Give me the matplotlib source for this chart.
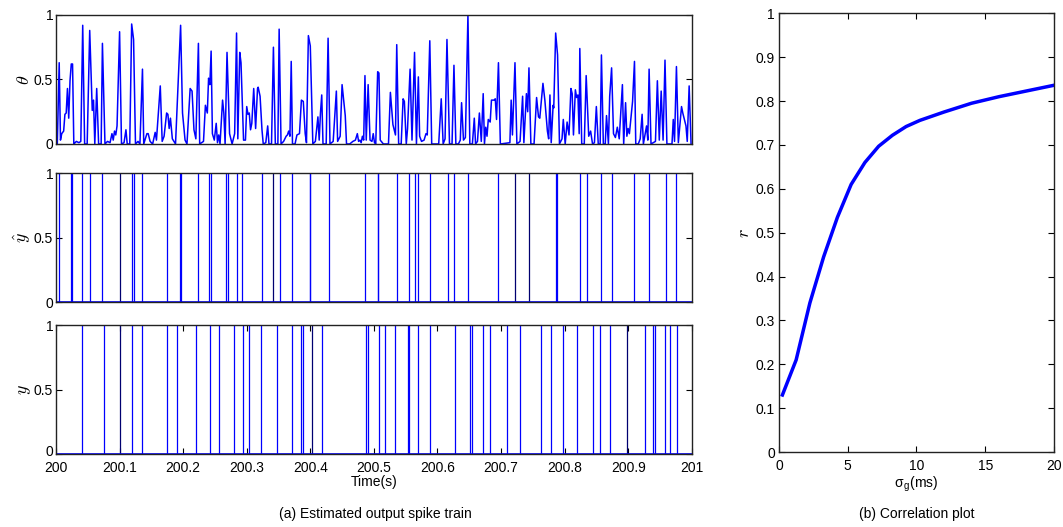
import matplotlib
matplotlib.use("Agg")
import matplotlib.pyplot as plt
import matplotlib.transforms as mtransforms
import numpy as np

plt.rcParams["font.family"] = ["Liberation Sans", "DejaVu Sans"]
plt.rcParams["mathtext.fontset"] = "cm"
plt.rcParams["font.size"] = 10

# theta trace: time offsets (ms after 200 s) and values
theta_ms = [0, 2, 5, 7, 9, 12, 14, 16, 18, 20, 22, 24, 26, 28, 32, 36, 39, 42, 45, 49,
            53, 57, 59, 61, 64, 67, 71, 73, 77, 81, 85, 88, 90, 92, 94, 96, 100, 103, 107, 110,
            112, 116, 119, 122, 125, 129, 132, 136, 138, 143, 145, 148, 152, 156, 158, 164, 167, 170, 174, 176,
            178, 180, 183, 188, 196, 199, 203, 206, 211, 214, 217, 220, 224, 226, 232, 235, 238, 240, 242, 244,
            246, 249, 252, 254, 256, 258, 262, 264, 266, 269, 273, 277, 281, 284, 286, 289, 291, 295, 298, 300,
            302, 304, 306, 308, 311, 314, 317, 318, 321, 324, 326, 330, 333, 335, 339, 342, 345, 349, 351, 354,
            358, 362, 364, 366, 368, 370, 372, 376, 379, 383, 386, 389, 392, 394, 397, 400, 404, 408, 412, 414,
            416, 418, 420, 425, 428, 431, 436, 441, 443, 447, 450, 455, 457, 462, 467, 471, 474, 476, 478, 480,
            482, 484, 486, 488, 491, 494, 497, 499, 501, 503, 506, 508, 510, 515, 523, 526, 530, 534, 536, 539,
            543, 546, 548, 551, 553, 557, 560, 564, 567, 570, 572, 575, 579, 582, 584, 588, 591, 602, 606, 609,
            612, 615, 619, 623, 626, 629, 633, 636, 638, 641, 644, 648, 651, 655, 658, 660, 663, 666, 669, 672,
            674, 676, 678, 680, 683, 685, 689, 691, 693, 696, 699, 714, 716, 718, 722, 725, 730, 734, 736, 740,
            742, 744, 747, 752, 756, 759, 761, 766, 769, 773, 775, 777, 779, 782, 783, 786, 789, 792, 796, 798,
            801, 804, 807, 810, 812, 814, 817, 819, 821, 823, 824, 827, 831, 834, 838, 841, 844, 847, 850, 853,
            856, 858, 861, 864, 866, 869, 871, 874, 877, 880, 883, 886, 891, 893, 896, 898, 900, 902, 907, 910,
            912, 916, 919, 922, 924, 929, 931, 933, 936, 943, 946, 949, 952, 955, 958, 961, 969, 971, 973, 976,
            979, 984, 986, 991, 993, 996, 999]
theta_val = [0.03, 0, 0.63, 0.03, 0.08, 0.10, 0.23, 0.24, 0.43, 0.20, 0.49, 0.62, 0.62, 0, 0.02, 0.01, 0.02, 0.92, 0, 0,
             0.88, 0.26, 0.34, 0, 0.43, 0, 0, 0.78, 0, 0.02, 0.01, 0.08, 0.03, 0.10, 0.07, 0.14, 0.87, 0, 0.01, 0.11,
             0, 0, 0.93, 0.81, 0, 0.02, 0, 0.58, 0, 0.08, 0.08, 0.02, 0, 0.09, 0.03, 0.45, 0.02, 0.06, 0.24, 0.23,
             0.12, 0.20, 0.04, 0, 0.92, 0.24, 0.03, 0, 0.43, 0.41, 0.11, 0.04, 0.78, 0, 0.02, 0.30, 0.24, 0.51, 0.46, 0.72,
             0.08, 0.03, 0.16, 0.01, 0.07, 0, 0.34, 0.24, 0, 0.71, 0.08, 0, 0.08, 0.86, 0.04, 0.71, 0.63, 0.03, 0.03, 0.29,
             0.23, 0.24, 0.11, 0.16, 0.43, 0.12, 0.43, 0.44, 0.37, 0.11, 0, 0.01, 0.14, 0, 0, 0.75, 0, 0, 0.89, 0,
             0.02, 0.06, 0.07, 0.10, 0.06, 0.64, 0, 0, 0.07, 0.08, 0.34, 0.33, 0.08, 0.01, 0.84, 0.76, 0, 0.02, 0.21, 0.03,
             0.24, 0.38, 0, 0, 0.82, 0, 0.02, 0.41, 0.02, 0.06, 0.46, 0.22, 0, 0, 0.02, 0.03, 0.08, 0.02, 0.03, 0.01,
             0.06, 0.03, 0.53, 0.03, 0.46, 0.03, 0.02, 0.08, 0.01, 0, 0.56, 0.55, 0.03, 0, 0, 0.40, 0.15, 0.07, 0.77, 0,
             0, 0.35, 0.33, 0, 0.12, 0.58, 0.03, 0.71, 0, 0.52, 0.06, 0.02, 0.03, 0.08, 0.07, 0.80, 0, 0, 0.35, 0,
             0.04, 0.81, 0, 0, 0.61, 0, 0, 0.03, 0.32, 0.03, 0.05, 1.0, 0, 0, 0.20, 0, 0.02, 0.24, 0.02, 0.39,
             0, 0.13, 0.06, 0.19, 0.17, 0.34, 0.34, 0.35, 0.19, 0.63, 0, 0.01, 0.34, 0.07, 0.63, 0, 0.02, 0.37, 0.01, 0.39,
             0.25, 0.59, 0, 0, 0.36, 0.21, 0.20, 0.47, 0.34, 0.10, 0.04, 0.38, 0.01, 0.30, 0.28, 0.86, 0.69, 0, 0.04, 0.19,
             0, 0.17, 0.07, 0.43, 0.39, 0.07, 0.42, 0.36, 0.38, 0.08, 0.74, 0, 0, 0.53, 0.06, 0.10, 0, 0.01, 0.29, 0,
             0, 0.69, 0, 0, 0.22, 0, 0.37, 0.59, 0.08, 0.05, 0.13, 0.04, 0.46, 0, 0.32, 0.06, 0.12, 0.08, 0.33, 0.64,
             0, 0, 0.04, 0.23, 0, 0.14, 0.03, 0.58, 0, 0.02, 0.49, 0.03, 0.41, 0.03, 0.65, 0, 0, 0.19, 0.02, 0.60,
             0.01, 0.29, 0.24, 0.14, 0.02, 0.45, 0]

# estimated spikes (y-hat), ms after 200 s
yhat_ms = [5, 24, 25, 41, 54, 73, 120, 122, 136, 174, 195, 197, 224, 240, 244, 268, 270,
           284, 293, 324, 352, 371, 399, 400, 429, 486, 506, 507, 536, 556, 565, 570, 588,
           616, 626, 648, 696, 787, 788, 824, 836, 858, 874, 910, 933, 959, 976]
yhat_dark_ms = [100, 342, 722, 744]

# true spikes (y), ms after 200 s
y_ms = [41, 76, 120, 136, 174, 190, 220, 242, 256, 280, 294, 304, 322, 348, 371, 386, 388,
        418, 488, 491, 508, 518, 534, 554, 556, 570, 588, 627, 652, 654, 672, 682, 710,
        730, 763, 778, 798, 819, 845, 856, 872, 927, 939, 942, 958, 966, 977]
y_dark_ms = [100, 402, 898]

# correlation plot
sigma_g = [0.25, 1.25, 2.25, 3.25, 4.25, 5.25, 6.25, 7.25, 8.25, 9.25, 10.25, 12, 14, 16, 18, 20]
corr_r = [0.13, 0.21, 0.34, 0.445, 0.535, 0.61, 0.66, 0.697, 0.722, 0.742, 0.756, 0.775, 0.795, 0.81, 0.823, 0.836]

t0 = 200.0
blue = "#0000ff"
dark = "#000070"

fig = plt.figure(figsize=(10.63, 5.27), dpi=100)
ax1 = fig.add_axes([0.0527, 0.7268, 0.598, 0.2448])
ax2 = fig.add_axes([0.0527, 0.4264, 0.598, 0.2448])
ax3 = fig.add_axes([0.0527, 0.1385, 0.598, 0.2442])
ax4 = fig.add_axes([0.7328, 0.1423, 0.2587, 0.8324])


def ms_to_s(v):
    return t0 + np.asarray(v, dtype=float) / 1000.0


ax1.plot(ms_to_s(theta_ms), theta_val, color=blue, lw=1.1)

for ax, sp, spd in [(ax2, yhat_ms, yhat_dark_ms), (ax3, y_ms, y_dark_ms)]:
    ax.vlines(ms_to_s(sp), 0, 1, color=blue, lw=0.9)
    ax.vlines(ms_to_s(spd), 0, 1, color=dark, lw=0.9)
    ax.axhline(0, color=blue, lw=1.2)

xt = np.round(np.arange(200, 201.01, 0.1), 1)
xt_labels = ["200"] + [f"{v:.1f}" for v in xt[1:-1]] + ["201"]
for ax, lab in [(ax1, r"$\theta$"), (ax2, r"$\hat{y}$"), (ax3, r"$y$")]:
    ax.set_xlim(200, 201)
    ax.set_ylim(0, 1)
    ax.set_yticks([0, 0.5, 1])
    ax.set_yticklabels(["0", "0.5", "1"])
    ax.set_xticks(xt)
    ax.set_ylabel(lab, fontsize=13, labelpad=1)
    ax.tick_params(direction="in", top=True, right=True, length=4, pad=2)
for ax in (ax1, ax2):
    ax.set_xticklabels([])
    ax.tick_params(axis="x", length=0)
ax3.set_xticklabels(xt_labels)
ax3.tick_params(axis="x", pad=5)
ax3.set_xlabel("Time(s)", labelpad=0)

# lift the lowest y tick label a little so it clears "200"
fig.canvas.draw()
lift = mtransforms.ScaledTranslation(0, 2.5 / 72, fig.dpi_scale_trans)
lbl0 = ax3.get_yticklabels()[0]
lbl0.set_transform(lbl0.get_transform() + lift)

ax4.plot(sigma_g, corr_r, color=blue, lw=2.5)
ax4.set_xlim(0, 20)
ax4.set_ylim(0, 1)
ax4.set_xticks([0, 5, 10, 15, 20])
ax4.set_yticks(np.round(np.arange(0, 1.01, 0.1), 1))
ax4.set_yticklabels(["0"] + [f"{v:.1f}" for v in np.arange(0.1, 0.95, 0.1)] + ["1"])
ax4.tick_params(direction="in", top=True, right=True, length=4, pad=3)
ax4.tick_params(axis="x", pad=5)
ax4.set_ylabel(r"$r$", fontsize=13, labelpad=2)
ax4.set_xlabel("σ$_\\mathregular{g}$(ms)", labelpad=1)

for ax in (ax1, ax2, ax3, ax4):
    for s in ax.spines.values():
        s.set_linewidth(1.0)
        s.set_color("#222222")

fig.text(0.353, 0.025, "(a) Estimated output spike train", ha="center", va="center", fontsize=10)
fig.text(0.862, 0.025, "(b) Correlation plot", ha="center", va="center", fontsize=10)

fig.savefig("out.png", dpi=100)
